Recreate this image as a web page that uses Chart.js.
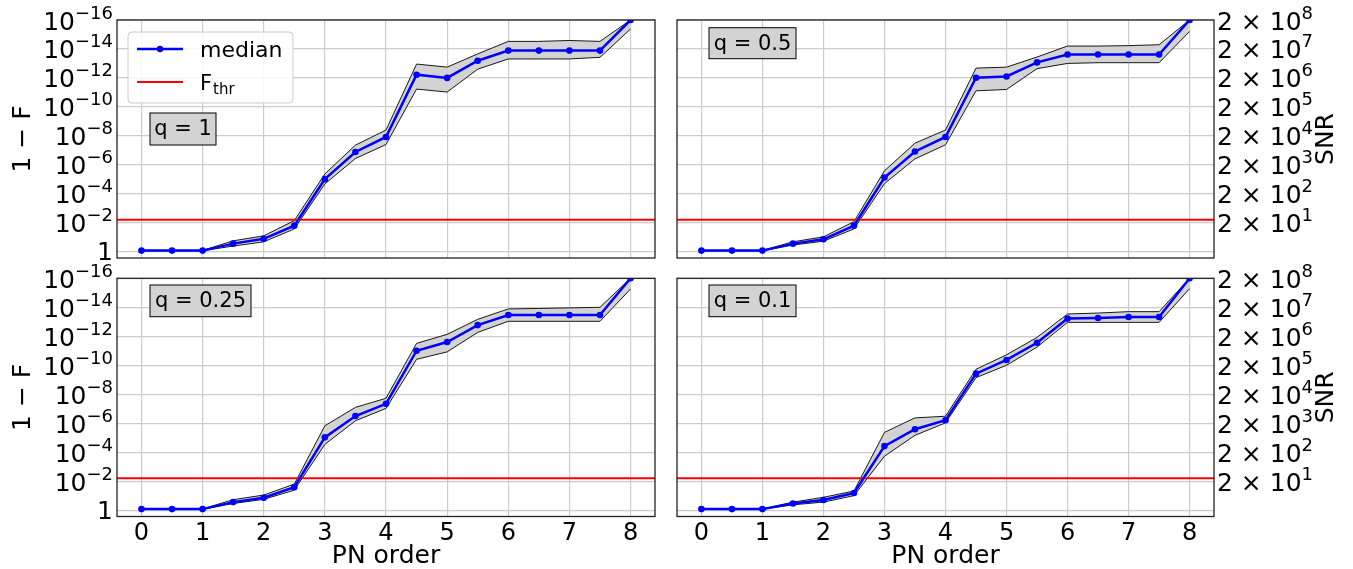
<!DOCTYPE html>
<html>
<head>
<meta charset="utf-8">
<script src="https://cdn.jsdelivr.net/npm/chart.js@4.4.1/dist/chart.umd.min.js"></script>
<style>
  body { margin: 0; background: #fff; width: 1353px; height: 569px; overflow: hidden; position: relative; }
  canvas { position: absolute; }
</style>
</head>
<body>
<canvas id="c0" width="666" height="262" style="left:0;top:0"></canvas>
<canvas id="c1" width="687" height="262" style="left:666px;top:0"></canvas>
<canvas id="c2" width="666" height="311" style="left:0;top:258px"></canvas>
<canvas id="c3" width="687" height="311" style="left:666px;top:258px"></canvas>
<script>
// PN orders on the x axis
const pnOrder = [0, 0.5, 1, 1.5, 2, 2.5, 3, 3.5, 4, 4.5, 5, 5.5, 6, 6.5, 7, 7.5, 8];
const pnTicks = [0, 1, 2, 3, 4, 5, 6, 7, 8];

// 1 - F: median and band edges
const medianQ1 = [0.85, 0.85, 0.85, 0.28, 0.13, 1.6e-2, 9.8e-6, 1.3e-7, 1.2e-8, 6.0e-13, 1.0e-12, 6.5e-14, 1.3e-14, 1.3e-14, 1.3e-14, 1.3e-14, 1e-16];
const bandLoQ1 = [0.82, 0.82, 0.82, 0.18, 8.1e-2, 7.2e-3, 4.3e-6, 4.4e-8, 4.0e-9, 1.1e-13, 1.8e-13, 2.2e-14, 3.0e-15, 3.0e-15, 2.6e-15, 3.0e-15, 1e-16];
const bandHiQ1 = [0.88, 0.88, 0.88, 0.41, 0.21, 2.7e-2, 2.1e-5, 3.7e-7, 4.0e-8, 5.9e-12, 9.5e-12, 2.5e-13, 4.9e-14, 4.9e-14, 4.9e-14, 3.8e-14, 4.2e-16];

const medianQ05 = [0.85, 0.85, 0.85, 0.28, 0.14, 1.6e-2, 7.6e-6, 1.2e-7, 1.2e-8, 9.8e-13, 7.9e-13, 8.5e-14, 2.4e-14, 2.4e-14, 2.4e-14, 2.4e-14, 1e-16];
const bandLoQ05 = [0.82, 0.82, 0.82, 0.21, 9.5e-2, 8.5e-3, 2.6e-6, 3.2e-8, 4.0e-9, 2.1e-13, 1.8e-13, 3.6e-14, 6.3e-15, 6.3e-15, 5.9e-15, 5.1e-15, 1e-16];
const bandHiQ05 = [0.88, 0.88, 0.88, 0.35, 0.19, 2.7e-2, 2.0e-5, 3.9e-7, 4.2e-8, 7.8e-12, 6.3e-12, 2.3e-13, 1.0e-13, 8.9e-14, 8.9e-14, 8.9e-14, 6.2e-16];

const medianQ025 = [0.85, 0.85, 0.85, 0.28, 0.14, 2.6e-2, 9.5e-6, 3.2e-7, 4.6e-8, 1.0e-11, 2.5e-12, 1.7e-13, 3.4e-14, 3.4e-14, 3.4e-14, 3.4e-14, 1e-16];
const bandLoQ025 = [0.82, 0.82, 0.82, 0.19, 9.1e-2, 1.6e-2, 1.5e-6, 8.1e-8, 1.9e-8, 3.1e-12, 7.4e-13, 6.8e-14, 1.3e-14, 1.2e-14, 1.1e-14, 1.0e-14, 1e-16];
const bandHiQ025 = [0.88, 0.88, 0.88, 0.35, 0.18, 4.2e-2, 2.9e-5, 6.8e-7, 9.5e-8, 3.9e-11, 1.2e-11, 5.4e-13, 9.3e-14, 9.3e-14, 9.3e-14, 9.3e-14, 5.5e-16];

const medianQ01 = [0.85, 0.85, 0.85, 0.35, 0.20, 6.6e-2, 3.8e-5, 2.6e-6, 6.3e-7, 3.8e-10, 4.3e-11, 2.8e-12, 6.0e-14, 5.5e-14, 4.7e-14, 4.7e-14, 1e-16];
const bandLoQ01 = [0.82, 0.82, 0.82, 0.28, 0.13, 4.8e-2, 4.3e-6, 4.3e-7, 3.3e-7, 1.9e-10, 1.9e-11, 1.2e-12, 2.9e-14, 2.5e-14, 2.0e-14, 2.0e-14, 1e-16];
const bandHiQ01 = [0.88, 0.88, 0.88, 0.43, 0.28, 0.10, 1.9e-4, 6.9e-6, 9.5e-7, 7.2e-10, 1.0e-10, 5.6e-12, 1.1e-13, 1.1e-13, 1.1e-13, 1.1e-13, 5.2e-16];

// threshold 1 - F_thr
const fThr = 6.3e-3;

// axis ticks: [base, exponent]
const yTicks = [1e-16, 1e-14, 1e-12, 1e-10, 1e-8, 1e-6, 1e-4, 1e-2, 1];
const yTickLabels = [['10', '−16'], ['10', '−14'], ['10', '−12'], ['10', '−10'], ['10', '−8'],
                     ['10', '−6'], ['10', '−4'], ['10', '−2'], ['1', '']];
const snrTicks = [2e1, 2e2, 2e3, 2e4, 2e5, 2e6, 2e7, 2e8];
const snrTickLabels = [['2 × 10', '1'], ['2 × 10', '2'], ['2 × 10', '3'], ['2 × 10', '4'],
                       ['2 × 10', '5'], ['2 × 10', '6'], ['2 × 10', '7'], ['2 × 10', '8']];
const qLabels = ['q = 1', 'q = 0.5', 'q = 0.25', 'q = 0.1'];

const FONT = 'DejaVu Sans';
const yMin = 1e-16, yMax = 2.75;
const xMin = -0.4, xMax = 8.4;

// Panel layout (canvas coords)
const panels = [
  { id: 'c0', median: medianQ1, lo: bandLoQ1, hi: bandHiQ1, left: true, bottom: false,
    area: { left: 117, top: 20, right: 655, bottom: 258 }, box: [33, 93, 66, 32], legend: true },
  { id: 'c1', median: medianQ05, lo: bandLoQ05, hi: bandHiQ05, left: false, bottom: false,
    area: { left: 11, top: 20, right: 548, bottom: 258 }, box: [32, 7.7, 87, 31] },
  { id: 'c2', median: medianQ025, lo: bandLoQ025, hi: bandHiQ025, left: true, bottom: true,
    area: { left: 117, top: 20.3, right: 655, bottom: 258.5 }, box: [33, 6.7, 101, 31.7] },
  { id: 'c3', median: medianQ01, lo: bandLoQ01, hi: bandHiQ01, left: false, bottom: true,
    area: { left: 11, top: 20.3, right: 548, bottom: 258.5 }, box: [32, 6.7, 87, 31.7] }
];

// draws "base^exp" like matplotlib mathtext, anchored left or right at x
function drawPower(ctx, base, exp, x, y, align) {
  ctx.textBaseline = 'alphabetic';
  ctx.textAlign = 'left';
  ctx.font = '25px "' + FONT + '"';
  const bw = ctx.measureText(base).width;
  ctx.font = '18px "' + FONT + '"';
  const ew = exp ? ctx.measureText(exp).width : 0;
  const x0 = align === 'right' ? x - bw - ew : x;
  const baseY = exp ? y + 9.5 : y + 8.5;
  ctx.font = '25px "' + FONT + '"';
  ctx.fillText(base, x0, baseY);
  if (exp) {
    ctx.font = '18px "' + FONT + '"';
    ctx.fillText(exp, x0 + bw, baseY - 11);
  }
}

// frame, tick labels, q label box, legend and the SNR title
const decor = {
  id: 'decor',
  afterDraw(chart, args, opts) {
    const { ctx, chartArea: a } = chart;
    const p = opts.panel;
    ctx.save();
    ctx.strokeStyle = '#222';
    ctx.lineWidth = 1.3;
    ctx.strokeRect(a.left, a.top, a.right - a.left, a.bottom - a.top);

    ctx.fillStyle = '#000';
    if (p.left) {
      const ys = chart.scales.y;
      yTicks.forEach((v, i) => drawPower(ctx, yTickLabels[i][0], yTickLabels[i][1], a.left - 4, ys.getPixelForValue(v), 'right'));
    } else {
      const ys2 = chart.scales.y2;
      snrTicks.forEach((v, i) => drawPower(ctx, snrTickLabels[i][0], snrTickLabels[i][1], a.right + 3, ys2.getPixelForValue(v), 'left'));
    }

    // q label
    const [bx, by, bw, bh] = p.box;
    ctx.fillStyle = '#d3d3d3';
    ctx.fillRect(a.left + bx, a.top + by, bw, bh);
    ctx.strokeStyle = '#000';
    ctx.lineWidth = 1;
    ctx.strokeRect(a.left + bx, a.top + by, bw, bh);
    ctx.fillStyle = '#000';
    ctx.font = '21px "' + FONT + '"';
    ctx.textAlign = 'center';
    ctx.textBaseline = 'middle';
    ctx.fillText(opts.label, a.left + bx + bw / 2, a.top + by + bh / 2 + 1);

    if (p.legend) {
      const lx = 128, ly = 32, lw = 165, lh = 71;
      ctx.beginPath();
      ctx.roundRect(lx, ly, lw, lh, 4);
      ctx.fillStyle = 'rgba(255,255,255,0.85)';
      ctx.fill();
      ctx.strokeStyle = '#cccccc';
      ctx.lineWidth = 1;
      ctx.stroke();

      ctx.lineWidth = 2.5;
      ctx.strokeStyle = '#0000ff';
      ctx.beginPath(); ctx.moveTo(137, 49); ctx.lineTo(183, 49); ctx.stroke();
      ctx.fillStyle = '#0000ff';
      ctx.beginPath(); ctx.arc(160, 49, 3.2, 0, Math.PI * 2); ctx.fill();
      ctx.lineWidth = 2;
      ctx.strokeStyle = '#ff0000';
      ctx.beginPath(); ctx.moveTo(137, 82); ctx.lineTo(183, 82); ctx.stroke();

      ctx.fillStyle = '#000';
      ctx.textAlign = 'left';
      ctx.textBaseline = 'alphabetic';
      ctx.font = '22px "' + FONT + '"';
      ctx.fillText('median', 200, 57);
      ctx.font = '21px "' + FONT + '"';
      ctx.fillText('F', 200, 90);
      const fw = ctx.measureText('F').width;
      ctx.font = '15px "' + FONT + '"';
      ctx.fillText('thr', 200 + fw + 1, 94);
    }

    if (!p.left) {
      ctx.save();
      ctx.translate(chart.width - 27, (a.top + a.bottom) / 2);
      ctx.rotate(-Math.PI / 2);
      ctx.font = '25px "' + FONT + '"';
      ctx.fillStyle = '#000';
      ctx.textAlign = 'center';
      ctx.textBaseline = 'middle';
      ctx.fillText('SNR', 0, 0);
      ctx.restore();
    }
    ctx.restore();
  }
};

const gridStyle = { color: '#cccccc', lineWidth: 1.2, drawTicks: false };

function makeChart(p, idx) {
  const canvas = document.getElementById(p.id);
  const W = canvas.width, H = canvas.height, A = p.area;
  const pts = arr => pnOrder.map((x, i) => ({ x: x, y: arr[i] }));

  const scales = {
    x: {
      type: 'linear', min: xMin, max: xMax,
      afterBuildTicks: s => { s.ticks = pnTicks.map(v => ({ value: v })); },
      ticks: { display: p.bottom, autoSkip: false, color: '#000', padding: 3,
               font: { family: FONT, size: 24 }, callback: v => String(v) },
      grid: gridStyle,
      border: { display: false },
      title: { display: p.bottom, text: 'PN order', color: '#000', padding: 0,
               font: { family: FONT, size: 25, lineHeight: 1 } },
      afterFit: s => { s.height = p.bottom ? H - A.bottom : 0; s.paddingLeft = 0; s.paddingRight = 0; }
    },
    y: {
      type: 'logarithmic', reverse: true, min: yMin, max: yMax,
      afterBuildTicks: s => { s.ticks = yTicks.map(v => ({ value: v })); },
      ticks: { display: false, autoSkip: false },
      grid: gridStyle,
      border: { display: false },
      title: { display: p.left, text: '1 − F', color: '#000', padding: { top: 8, bottom: 0 },
               font: { family: FONT, size: 25 } },
      afterFit: s => { s.width = p.left ? A.left : 0; s.paddingTop = 0; s.paddingBottom = 0; }
    }
  };
  if (!p.left) {
    scales.y2 = {
      type: 'logarithmic', position: 'right',
      min: 2 / Math.sqrt(yMax), max: 2 / Math.sqrt(yMin),
      afterBuildTicks: s => { s.ticks = snrTicks.map(v => ({ value: v })); },
      ticks: { display: false, autoSkip: false },
      grid: { display: false, drawTicks: false },
      border: { display: false },
      afterFit: s => { s.width = W - A.right; s.paddingTop = 0; s.paddingBottom = 0; }
    };
  }

  return new Chart(canvas, {
    type: 'line',
    data: {
      datasets: [
        { label: 'median', data: pts(p.median), borderColor: '#0000ff', backgroundColor: '#0000ff',
          borderWidth: 2.5, pointRadius: 3.3, pointHoverRadius: 3.3, pointBorderWidth: 0, fill: false },
        { label: 'F_thr', data: [{ x: xMin, y: fThr }, { x: xMax, y: fThr }], borderColor: '#ff0000',
          borderWidth: 2, pointRadius: 0, fill: false },
        { label: 'band low', data: pts(p.lo), borderColor: '#000', borderWidth: 0.9,
          pointRadius: 0, fill: false },
        { label: 'band high', data: pts(p.hi), borderColor: '#000', borderWidth: 0.9,
          pointRadius: 0, fill: 2, backgroundColor: '#d3d3d3' }
      ]
    },
    options: {
      responsive: false,
      animation: false,
      devicePixelRatio: 1,
      events: [],
      layout: {
        padding: {
          left: p.left ? 0 : A.left,
          right: p.left ? W - A.right : 0,
          top: A.top,
          bottom: p.bottom ? 0 : H - A.bottom
        }
      },
      plugins: {
        legend: { display: false },
        tooltip: { enabled: false },
        decor: { panel: p, label: qLabels[idx] }
      },
      scales: scales
    },
    plugins: [decor]
  });
}

panels.forEach(makeChart);
</script>
</body>
</html>
